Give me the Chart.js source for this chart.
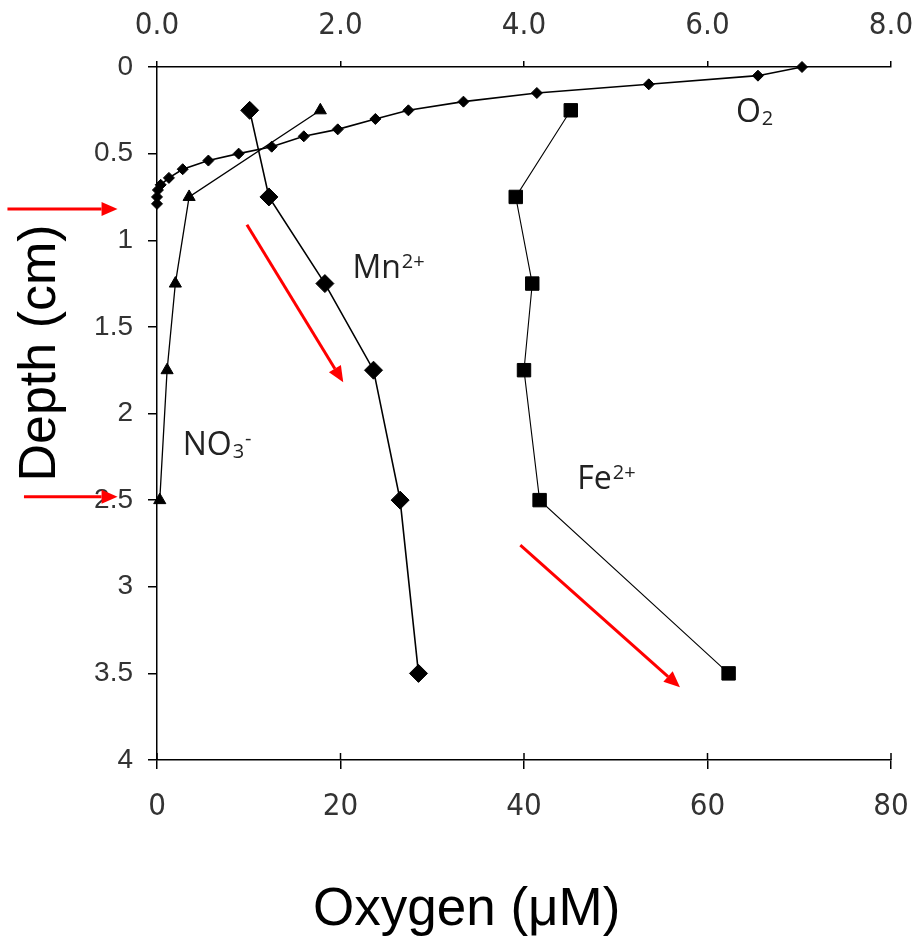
<!DOCTYPE html>
<html>
<head>
<meta charset="utf-8">
<script src="https://cdn.jsdelivr.net/npm/chart.js@4.4.0/dist/chart.umd.min.js"></script>
<style>
    html, body { margin: 0; padding: 0; background: #fff; }
    #khung { width: 915px; height: 940px; }
</style>
</head>
<body>
<div id="khung"><canvas id="doThi" width="915" height="940"></canvas></div>
<script>
// O2 doc theo truc tren (0 - 8), do sau tinh bang cm
var o2Depth = [0, 0.05, 0.10, 0.15, 0.20, 0.25, 0.30, 0.36, 0.40, 0.46, 0.50, 0.54, 0.59, 0.64, 0.68, 0.71, 0.75, 0.79];
var o2Value = [7.03, 6.55, 5.36, 4.14, 3.34, 2.74, 2.38, 1.97, 1.60, 1.25, 0.89, 0.56, 0.28, 0.13, 0.04, 0.01, 0, 0];

// Mn2+, NO3-, Fe2+ doc theo truc duoi (0 - 80)
var mnDepth = [0.25, 0.75, 1.25, 1.75, 2.5, 3.5];
var mnValue = [10.1, 12.2, 18.3, 23.6, 26.5, 28.5];
var no3Depth = [0.25, 0.75, 1.25, 1.75, 2.5];
var no3Value = [17.8, 3.5, 2.0, 1.1, 0.3];
var feDepth = [0.25, 0.75, 1.25, 1.75, 2.5, 3.5];
var feValue = [45.1, 39.1, 40.9, 40.0, 41.7, 62.3];

// nhan truc
var yTicks = [0, 0.5, 1, 1.5, 2, 2.5, 3, 3.5, 4];
var xTicks = [0, 20, 40, 60, 80];
var x2Ticks = [0, 2, 4, 6, 8];

// mui ten do (toa do theo truc duoi / do sau)
var arrowX1 = [-16.3, 9.8, -14.5, 39.6];
var arrowY1 = [0.82, 0.91, 2.48, 2.76];
var arrowX2 = [-4.3, 20.3, -4.3, 57.0];
var arrowY2 = [0.82, 1.82, 2.48, 3.58];

// nhan ten chat (vi tri theo truc duoi / do sau)
var nhanX = [63.1, 21.3, 2.8, 45.8];
var nhanY = [0.317, 1.218, 2.24, 2.436];
var nhanChinh = ['O', 'Mn', 'NO', 'Fe'];
var nhanDuoi = ['2', '', '3', ''];
var nhanTren = ['', '2+', '-', '2+'];

var _myChart = null;
var fontNarrow = "'Liberation Sans Narrow', 'Arial Narrow', 'DejaVu Sans Condensed', sans-serif";
var fontArial = "'Liberation Sans', Arial, sans-serif";
var fontNhan = "'Open Sans', Lato, sans-serif";

function toPoints(xs, ys) {
    return xs.map(function (v, i) { return { x: v, y: ys[i] }; });
}

function setTicks(list) {
    return function (scale) {
        scale.ticks = list.map(function (v) { return { value: v }; });
    };
}

// giu nguyen khung ve, khong de nhan dau/cuoi day truc vao trong
function fitX(h) {
    return function (s) {
        s.height = h;
        s.paddingLeft = 0;
        s.paddingRight = 0;
    };
}

var ghiChuPlugin = {
    id: 'ghiChu',
    afterDraw: function (chart) {
        var ctx = chart.ctx;
        var xs = chart.scales.x;
        var ys = chart.scales.y;

        // phan vach chia huong vao trong cua truc duoi
        ctx.save();
        ctx.strokeStyle = '#000';
        ctx.lineWidth = 1.5;
        xTicks.forEach(function (v) {
            var px = xs.getPixelForValue(v);
            ctx.beginPath();
            ctx.moveTo(px, ys.bottom - 7);
            ctx.lineTo(px, ys.bottom);
            ctx.stroke();
        });
        ctx.restore();

        // mui ten do
        ctx.save();
        ctx.strokeStyle = '#ff0000';
        ctx.fillStyle = '#ff0000';
        ctx.lineWidth = 3;
        for (var i = 0; i < arrowX1.length; i++) {
            var ax = xs.getPixelForValue(arrowX1[i]);
            var ay = ys.getPixelForValue(arrowY1[i]);
            var bx = xs.getPixelForValue(arrowX2[i]);
            var by = ys.getPixelForValue(arrowY2[i]);
            var goc = Math.atan2(by - ay, bx - ax);
            var dai = 16, rong = 7;
            var cx = bx - dai * Math.cos(goc), cy = by - dai * Math.sin(goc);
            ctx.beginPath();
            ctx.moveTo(ax, ay);
            ctx.lineTo(cx, cy);
            ctx.stroke();
            ctx.beginPath();
            ctx.moveTo(bx, by);
            ctx.lineTo(cx + rong * Math.sin(goc), cy - rong * Math.cos(goc));
            ctx.lineTo(cx - rong * Math.sin(goc), cy + rong * Math.cos(goc));
            ctx.closePath();
            ctx.fill();
        }
        ctx.restore();

        // ten chat voi chi so tren / duoi
        ctx.save();
        ctx.fillStyle = '#222';
        ctx.textBaseline = 'alphabetic';
        ctx.textAlign = 'left';
        for (var j = 0; j < nhanChinh.length; j++) {
            var tx = xs.getPixelForValue(nhanX[j]);
            var ty = ys.getPixelForValue(nhanY[j]);
            ctx.font = '32px ' + fontNhan;
            ctx.fillText(nhanChinh[j], tx, ty);
            var w = ctx.measureText(nhanChinh[j]).width;
            ctx.font = '20px ' + fontNhan;
            if (nhanDuoi[j]) {
                ctx.fillText(nhanDuoi[j], tx + w + 1, ty + 3);
                w += ctx.measureText(nhanDuoi[j]).width + 1;
            }
            if (nhanTren[j]) {
                ctx.fillText(nhanTren[j], tx + w + 1, ty - 10);
            }
        }
        ctx.restore();

        // tieu de truc
        ctx.save();
        ctx.fillStyle = '#000';
        ctx.font = '53px ' + fontArial;
        ctx.textAlign = 'left';
        ctx.textBaseline = 'alphabetic';
        ctx.fillText('Oxygen (μM)', 313, 925);
        ctx.translate(55, 353);
        ctx.rotate(-Math.PI / 2);
        ctx.textAlign = 'center';
        ctx.font = '52px ' + fontArial;
        ctx.fillText('Depth (cm)', 0, 0);
        ctx.restore();
    }
};

function renderDoThi() {
    var ctx = document.getElementById('doThi').getContext('2d');
    var nenChung = {
        borderColor: '#000',
        pointBackgroundColor: '#000',
        pointBorderColor: '#000',
        pointBorderWidth: 1,
        fill: false,
        tension: 0,
        clip: false
    };
    var datasets = [
        Object.assign({}, nenChung, {
            label: 'O2', data: toPoints(o2Value, o2Depth), xAxisID: 'x2', yAxisID: 'y',
            borderWidth: 1.6, pointStyle: 'rectRot', pointRadius: 5.5
        }),
        Object.assign({}, nenChung, {
            label: 'Mn2+', data: toPoints(mnValue, mnDepth), xAxisID: 'x', yAxisID: 'y',
            borderWidth: 1.6, pointStyle: 'rectRot', pointRadius: 9
        }),
        Object.assign({}, nenChung, {
            label: 'NO3-', data: toPoints(no3Value, no3Depth), xAxisID: 'x', yAxisID: 'y',
            borderWidth: 1.3, pointStyle: 'triangle', pointRadius: 7
        }),
        Object.assign({}, nenChung, {
            label: 'Fe2+', data: toPoints(feValue, feDepth), xAxisID: 'x', yAxisID: 'y',
            borderWidth: 1.1, pointStyle: 'rect', pointRadius: 9.5
        })
    ];

    _myChart = new Chart(ctx, {
        type: 'line',
        data: { datasets: datasets },
        options: {
            responsive: false,
            animation: false,
            layout: { padding: { left: 0, right: 24, top: 0, bottom: 0 } },
            plugins: { legend: { display: false }, tooltip: { enabled: false } },
            scales: {
                x: {
                    type: 'linear', position: 'bottom', min: 0, max: 80,
                    afterBuildTicks: setTicks(xTicks),
                    afterFit: fitX(180),
                    ticks: { font: { family: fontNarrow, size: 31 }, color: '#333', padding: 19, maxRotation: 0 },
                    grid: { drawOnChartArea: false, drawTicks: true, tickLength: 9, color: '#000', lineWidth: 1.5 },
                    border: { display: true, color: '#000', width: 1.5 }
                },
                x2: {
                    type: 'linear', position: 'top', min: 0, max: 8,
                    afterBuildTicks: setTicks(x2Ticks),
                    afterFit: fitX(67),
                    ticks: {
                        font: { family: fontNarrow, size: 31 }, color: '#333', padding: 16, maxRotation: 0,
                        callback: function (value) { return value.toFixed(1); }
                    },
                    grid: { drawOnChartArea: false, drawTicks: true, tickLength: 6, color: '#000', lineWidth: 1.5 },
                    border: { display: true, color: '#000', width: 1.5 }
                },
                y: {
                    type: 'linear', position: 'left', min: 0, max: 4, reverse: true,
                    afterBuildTicks: setTicks(yTicks),
                    afterFit: function (s) { s.width = 157; s.paddingTop = 0; s.paddingBottom = 0; },
                    ticks: {
                        font: { family: fontArial, size: 28 }, color: '#333', padding: 15,
                        callback: function (value) { return String(value); }
                    },
                    grid: { drawOnChartArea: false, drawTicks: true, tickLength: 9, color: '#000', lineWidth: 1.5 },
                    border: { display: true, color: '#000', width: 1.5 }
                }
            }
        },
        plugins: [ghiChuPlugin]
    });
}

renderDoThi();
</script>
</body>
</html>
